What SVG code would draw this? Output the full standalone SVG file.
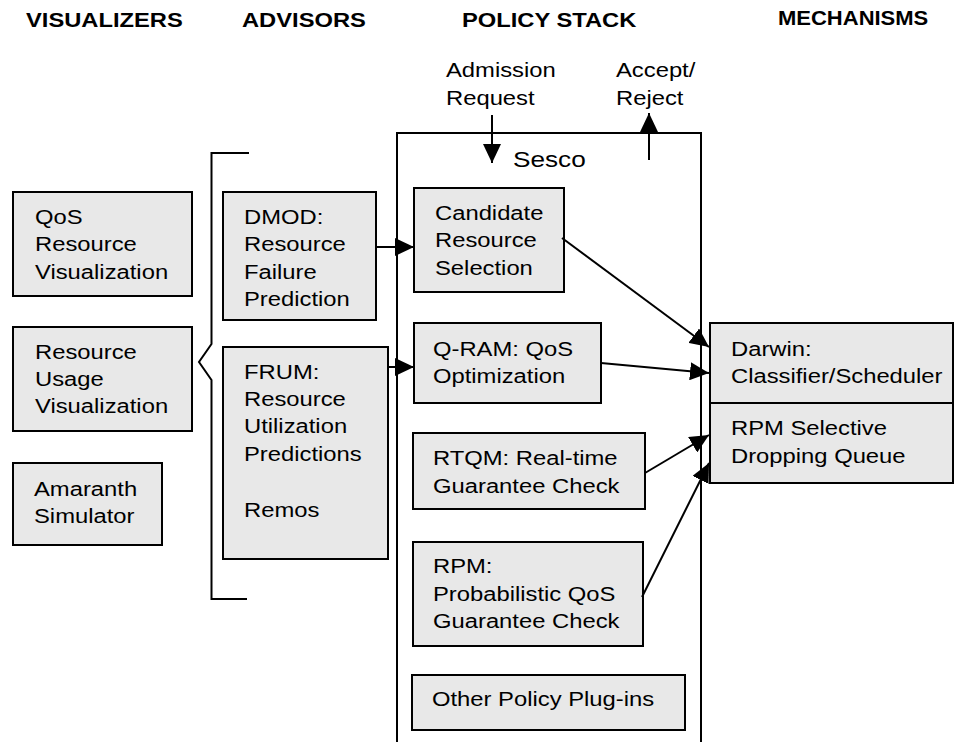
<svg xmlns="http://www.w3.org/2000/svg" width="954" height="742" viewBox="0 0 954 742">
<style>
.box{fill:#e8e8e8;stroke:#000;stroke-width:2}
.t{font-family:"Liberation Sans",Arial,sans-serif;font-size:20px;fill:#000}
.h{font-family:"Liberation Sans",Arial,sans-serif;font-size:21px;font-weight:bold;fill:#000}
.ln{fill:none;stroke:#000;stroke-width:2}
.ar{fill:none;stroke:#000;stroke-width:2;marker-end:url(#ah)}
</style>
<defs>
<marker id="ah" markerUnits="userSpaceOnUse" markerWidth="20" markerHeight="18" refX="19" refY="9" orient="auto">
<path d="M0,0 L19,9 L0,18 z" fill="#000"/>
</marker>
</defs>
<g id="headers">
<text class="h" transform="matrix(1.13 0 0 1 26 0)" x="0" y="27">VISUALIZERS</text>
<text class="h" transform="matrix(1.13 0 0 1 242 0)" x="0" y="27">ADVISORS</text>
<text class="h" transform="matrix(1.13 0 0 1 462 0)" x="0" y="27">POLICY STACK</text>
<text class="h" style="font-size:20px" transform="matrix(1.1 0 0 1 778 0)" x="0" y="25">MECHANISMS</text>
</g>
<g id="labels">
<text class="t" transform="matrix(1.19 0 0 1 446 0)"><tspan x="0" y="77">Admission</tspan><tspan x="0" y="105">Request</tspan></text>
<text class="t" transform="matrix(1.19 0 0 1 616 0)"><tspan x="0" y="77">Accept/</tspan><tspan x="0" y="105">Reject</tspan></text>
</g>
<g id="qos-vis">
<rect class="box" x="13" y="192" width="179" height="104"/>
<text class="t" transform="matrix(1.19 0 0 1 35 0)"><tspan x="0" y="224">QoS</tspan><tspan x="0" y="251.5">Resource</tspan><tspan x="0" y="279">Visualization</tspan></text>
</g>
<g id="usage-vis">
<rect class="box" x="13" y="327" width="179" height="104"/>
<text class="t" transform="matrix(1.19 0 0 1 35 0)"><tspan x="0" y="359">Resource</tspan><tspan x="0" y="386">Usage</tspan><tspan x="0" y="413">Visualization</tspan></text>
</g>
<g id="amaranth">
<rect class="box" x="13" y="463" width="149" height="82"/>
<text class="t" transform="matrix(1.19 0 0 1 34 0)"><tspan x="0" y="496">Amaranth</tspan><tspan x="0" y="523">Simulator</tspan></text>
</g>
<g id="bracket">
<path class="ln" d="M249,153 H211.5 V344 L199,362 L211.5,380 V599 H247"/>
</g>
<g id="dmod">
<rect class="box" x="223" y="192" width="153" height="128"/>
<text class="t" transform="matrix(1.19 0 0 1 244 0)"><tspan x="0" y="224">DMOD:</tspan><tspan x="0" y="251.5">Resource</tspan><tspan x="0" y="279">Failure</tspan><tspan x="0" y="306.5">Prediction</tspan></text>
</g>
<g id="frum">
<rect class="box" x="223" y="347" width="165" height="212"/>
<text class="t" transform="matrix(1.19 0 0 1 244 0)"><tspan x="0" y="379">FRUM:</tspan><tspan x="0" y="406">Resource</tspan><tspan x="0" y="433.5">Utilization</tspan><tspan x="0" y="461">Predictions</tspan><tspan x="0" y="517">Remos</tspan></text>
</g>
<g id="sesco">
<path class="ln" d="M397,742 V133 H701 V742"/>
<text class="t" style="font-size:22px" transform="matrix(1.19 0 0 1 513 0)" x="0" y="167">Sesco</text>
</g>
<g id="candidate">
<rect class="box" x="414" y="188" width="150" height="104"/>
<text class="t" transform="matrix(1.19 0 0 1 435 0)"><tspan x="0" y="220">Candidate</tspan><tspan x="0" y="247.5">Resource</tspan><tspan x="0" y="275">Selection</tspan></text>
</g>
<g id="qram">
<rect class="box" x="414" y="323" width="187" height="80"/>
<text class="t" transform="matrix(1.19 0 0 1 433 0)"><tspan x="0" y="356">Q-RAM: QoS</tspan><tspan x="0" y="383">Optimization</tspan></text>
</g>
<g id="rtqm">
<rect class="box" x="413" y="433" width="232" height="76"/>
<text class="t" transform="matrix(1.19 0 0 1 433 0)"><tspan x="0" y="465">RTQM: Real-time</tspan><tspan x="0" y="493">Guarantee Check</tspan></text>
</g>
<g id="rpm">
<rect class="box" x="413" y="542" width="230" height="104"/>
<text class="t" transform="matrix(1.19 0 0 1 433 0)"><tspan x="0" y="573">RPM:</tspan><tspan x="0" y="601">Probabilistic QoS</tspan><tspan x="0" y="628">Guarantee Check</tspan></text>
</g>
<g id="other">
<rect class="box" x="412" y="675" width="273" height="55"/>
<text class="t" transform="matrix(1.19 0 0 1 432 0)" x="0" y="706">Other Policy Plug-ins</text>
</g>
<g id="darwin">
<rect class="box" x="710" y="323" width="243" height="80"/>
<text class="t" transform="matrix(1.19 0 0 1 731 0)"><tspan x="0" y="356">Darwin:</tspan><tspan x="0" y="383">Classifier/Scheduler</tspan></text>
</g>
<g id="rpm-queue">
<rect class="box" x="710" y="403" width="243" height="80"/>
<text class="t" transform="matrix(1.19 0 0 1 731 0)"><tspan x="0" y="435">RPM Selective</tspan><tspan x="0" y="463">Dropping Queue</tspan></text>
</g>
<g id="connectors">
<line class="ar" x1="492" y1="115" x2="492" y2="163"/>
<line class="ar" x1="649" y1="160" x2="649" y2="113"/>
<line class="ar" x1="376" y1="247" x2="414" y2="247"/>
<line class="ar" x1="388" y1="367" x2="414" y2="367"/>
<line class="ar" x1="562" y1="238" x2="709" y2="347"/>
<line class="ar" x1="601" y1="363" x2="709" y2="373"/>
<line class="ar" x1="645" y1="473" x2="709" y2="435"/>
<line class="ar" x1="642" y1="597" x2="709" y2="463"/>
</g>
</svg>
